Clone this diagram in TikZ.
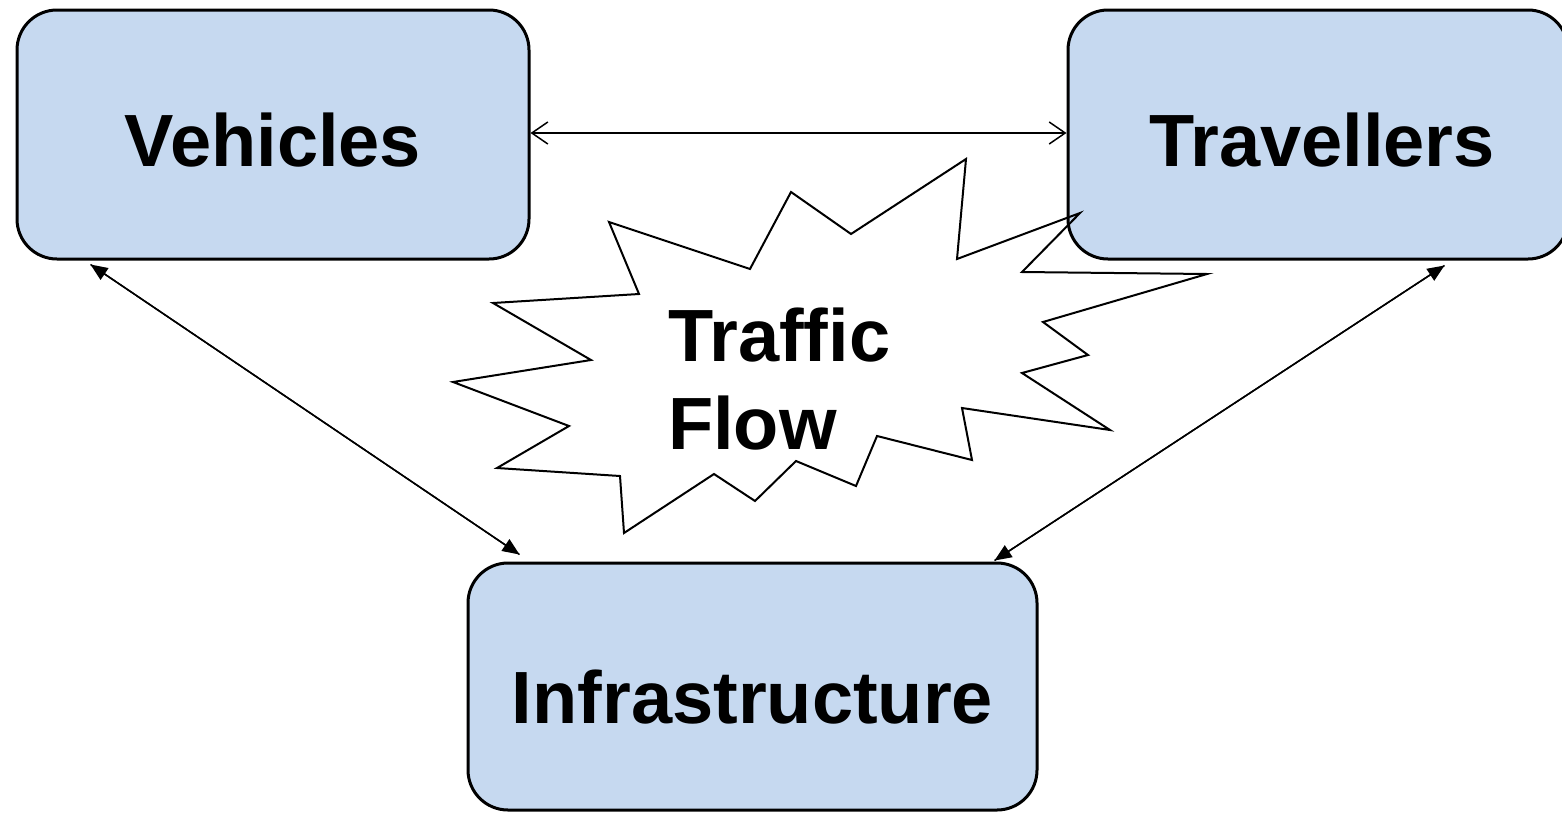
\documentclass[tikz,border=0pt]{standalone}
\usepackage{fontspec}
\setmainfont{Liberation Sans}
\usetikzlibrary{arrows.meta}
\definecolor{boxblue}{RGB}{198,217,240}
\tikzset{
  entity/.style={draw=black, line width=3pt, fill=boxblue, rounded corners=40pt,
    inner sep=0pt, font=\fontsize{74}{88}\selectfont\bfseries},
  link/.style={line width=1.5pt, -{Triangle[length=17pt,width=14pt]}, shorten <=0pt},
  biglink/.style={line width=1.5pt, {Straight Barb[length=16pt,width=22pt,line width=1.5pt]}-{Straight Barb[length=16pt,width=22pt,line width=1.5pt]}},
  burst/.style={draw=black, line width=2pt, line join=miter}
}
\begin{document}
\begin{tikzpicture}[x=1pt,y=-1pt]
\useasboundingbox (0,0) rectangle (1562,814);
\node[entity, minimum width=512pt, minimum height=249pt, text height=64pt, text depth=0pt] (v) at (273,134.5) {Vehicles};
\node[entity, minimum width=500pt, minimum height=249pt, text height=64pt, text depth=0pt] (t) at (1318,134.5) {\hspace*{8pt}Travellers};
\node[entity, minimum width=569pt, minimum height=247pt, text height=74pt, text depth=0pt] (i) at (752.5,686.5) {Infrastructure};

\coordinate (va) at ([xshift=75pt,yshift=-4pt]v.south west);
\coordinate (ia) at ([xshift=53pt,yshift=7pt]i.north west);
\coordinate (ta) at ([xshift=-125pt,yshift=-5pt]t.south east);
\coordinate (ib) at ([xshift=-44pt,yshift=1pt]i.north east);
\coordinate (vr) at ([yshift=1.5pt]v.east);
\coordinate (tl) at ([yshift=1.5pt]t.west);

\draw[biglink] (vr) -- (tl);
\draw[link] (ia) -- (va);
\draw[link] (va) -- (ia);
\draw[link] (ib) -- (ta);
\draw[link] (ta) -- (ib);

\draw[burst] (609,222) -- (750,269) -- (791,192) -- (851,234) -- (966,159) -- (957,259)
  -- (1080,213) -- (1022,272) -- (1207,274) -- (1043,322) -- (1088,355) -- (1022,373)
  -- (1110,430) -- (962,408) -- (972,460) -- (877,436) -- (856,486) -- (796,461)
  -- (755,501) -- (714,474) -- (624,533) -- (620,476) -- (497,468) -- (569,426)
  -- (453,382) -- (591,360) -- (493,303) -- (639,294) -- cycle;

\node[font=\fontsize{74}{88}\selectfont\bfseries, align=left, inner sep=0pt, anchor=west] (tf) at (668,379) {Traffic\\Flow};
\end{tikzpicture}
\end{document}
